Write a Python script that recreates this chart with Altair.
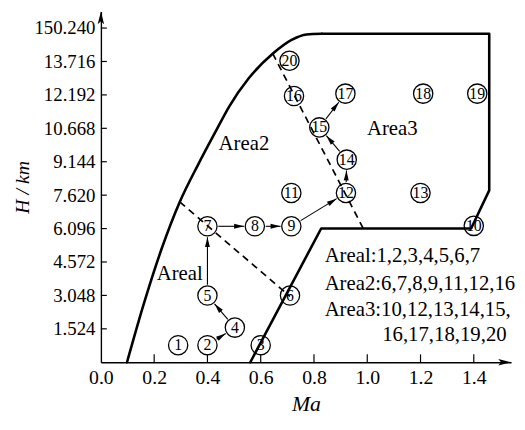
import math
import altair as alt
import pandas as pd

# ---------------- data ----------------
# flight envelope boundary (Ma, H km): smooth left (lower-speed) curve
curve_ma = [0.098, 0.161, 0.227, 0.296, 0.367, 0.432, 0.481, 0.555, 0.648, 0.716, 0.772, 0.83]
curve_h = [0.0, 2.66, 5.14, 7.31, 9.06, 10.55, 11.65, 12.95, 14.10, 14.70, 14.95, 14.98]
# straight part of the envelope (top, right side, lower right)
edge_ma = [0.83, 1.458, 1.458, 1.39, 0.827, 0.561]
edge_h = [14.98, 14.98, 7.84, 6.10, 6.10, 0.0]

# dashed area dividers
div1_ma = [0.296, 0.71]
div1_h = [7.31, 3.0]
div2_ma = [0.645, 0.985]
div2_h = [14.08, 6.10]

# numbered test points
pt_id = list(range(1, 21))
pt_ma = [0.29, 0.40, 0.60, 0.503, 0.40, 0.71, 0.40, 0.578, 0.715, 1.40,
         0.715, 0.92, 1.20, 0.923, 0.82, 0.725, 0.918, 1.21, 1.413, 0.708]
pt_h = [0.78, 0.78, 0.78, 1.58, 3.04, 3.04, 6.2, 6.2, 6.2, 6.22,
        7.72, 7.72, 7.72, 9.24, 10.71, 12.14, 12.25, 12.25, 12.25, 13.75]

# transition arrows (from point -> to point)
arrow_from = [2, 4, 5, 7, 8, 9, 12, 14, 15]
arrow_to = [4, 5, 7, 8, 9, 12, 14, 15, 17]

# in-plot texts
area_text = ["Area2", "Area3", "Areal"]
area_ma = [0.537, 1.094, 0.296]
area_h = [9.95, 10.62, 4.01]

legend_text = ["Areal:1,2,3,4,5,6,7", "Area2:6,7,8,9,11,12,16",
               "Area3:10,12,13,14,15,", "16,17,18,19,20"]
legend_ma = [0.84, 0.84, 0.84, 1.056]
legend_h = [4.84, 3.56, 2.36, 1.23]

# axes
x_ticks = [0.2, 0.4, 0.6, 0.8, 1.0, 1.2, 1.4]
x_labels = [0.0, 0.2, 0.4, 0.6, 0.8, 1.0, 1.2, 1.4]
y_ticks = [1.524, 3.048, 4.572, 6.096, 7.620, 9.144, 10.668, 12.192, 13.716, 15.240]
y_tick_text = ["1.524", "3.048", "4.572", "6.096", "7.620", "9.144", "10.668",
               "12.192", "13.716", "150.240"]

X_MAX = 1.54
Y_MAX = 16.0
W = 415
H = 355
PX = W / X_MAX
PY = H / Y_MAX
FONT = "Liberation Serif"
R = 11.0  # circle radius in px

# ---------------- build tables ----------------
curve_df = pd.DataFrame({"Ma": curve_ma, "H": curve_h, "o": range(len(curve_ma))})
edge_df = pd.DataFrame({"Ma": edge_ma, "H": edge_h, "o": range(len(edge_ma))})
div_df = pd.DataFrame({
    "Ma": div1_ma + div2_ma,
    "H": div1_h + div2_h,
    "seg": [1, 1, 2, 2],
    "o": [0, 1, 0, 1],
})
pts_df = pd.DataFrame({"Ma": pt_ma, "H": pt_h, "label": [str(i) for i in pt_id]})

seg_rows = []
head_rows = []
for k, (a, b) in enumerate(zip(arrow_from, arrow_to)):
    xa, ya = pt_ma[a - 1], pt_h[a - 1]
    xb, yb = pt_ma[b - 1], pt_h[b - 1]
    dxp, dyp = (xb - xa) * PX, (yb - ya) * PY
    d = math.hypot(dxp, dyp)
    ux, uy = dxp / d, dyp / d
    sx, sy = xa + R * ux / PX, ya + R * uy / PY
    ex, ey = xb - R * ux / PX, yb - R * uy / PY
    seg_rows.append({"Ma": sx, "H": sy, "seg": k, "o": 0})
    seg_rows.append({"Ma": ex, "H": ey, "seg": k, "o": 1})
    ang = math.degrees(math.atan2(ux, uy)) % 360
    head_rows.append({"Ma": ex - 5 * ux / PX, "H": ey - 5 * uy / PY, "ang": ang})
seg_df = pd.DataFrame(seg_rows)
head_df = pd.DataFrame(head_rows)

area_df = pd.DataFrame({"Ma": area_ma, "H": area_h, "label": area_text})
leg_df = pd.DataFrame({"Ma": legend_ma, "H": legend_h, "label": legend_text})

xt_df = pd.DataFrame({"Ma": x_ticks})
yt_df = pd.DataFrame({"H": y_ticks})
axis_arrow_df = pd.DataFrame({
    "Ma": [X_MAX - 6.5 / PX, 0.0],
    "H": [0.0, Y_MAX - 6.5 / PY],
    "ang": [90, 0],
})

# ---------------- scales / axes ----------------
label_expr = " : ".join(
    f"abs(datum.value - {v}) < 0.01 ? '{t}'" for v, t in zip(y_ticks, y_tick_text)
) + " : ''"

xs = alt.Scale(domain=[0, X_MAX], nice=False, zero=False)
ys = alt.Scale(domain=[0, Y_MAX], nice=False, zero=False)
xaxis = alt.Axis(values=x_labels, format=".1f", ticks=False, labelPadding=5,
                 labelFlush=False, labelOverlap=False, grid=False,
                 domainColor="black", domainWidth=1.4,
                 title="Ma", titleFontStyle="italic", titleFontSize=22,
                 titlePadding=7, labelFontSize=20)
yaxis = alt.Axis(values=y_ticks, labelExpr=label_expr, ticks=False, labelPadding=6,
                 labelFlush=False, labelOverlap=False, grid=False,
                 domainColor="black", domainWidth=1.4,
                 title="H / km", titleFontStyle="italic", titleFontSize=20,
                 titlePadding=1, labelFontSize=19)

X = alt.X("Ma:Q", scale=xs, axis=xaxis)
Y = alt.Y("H:Q", scale=ys, axis=yaxis)

curve = alt.Chart(curve_df).mark_line(
    color="black", strokeWidth=2.6, interpolate="monotone", strokeCap="round"
).encode(x=X, y=Y, order="o:Q")
edge = alt.Chart(edge_df).mark_line(
    color="black", strokeWidth=2.6, strokeJoin="round", strokeCap="round"
).encode(x=X, y=Y, order="o:Q")
dividers = alt.Chart(div_df).mark_line(color="black", strokeWidth=1.7, strokeDash=[7, 5]).encode(
    x=X, y=Y, detail="seg:N", order="o:Q")
arrows = alt.Chart(seg_df).mark_line(color="black", strokeWidth=1.1).encode(
    x=X, y=Y, detail="seg:N", order="o:Q")
heads = alt.Chart(head_df).mark_point(
    shape="M0,-1L0.5,1L-0.5,1Z", filled=True, color="black", size=100, opacity=1
).encode(x=X, y=Y, angle=alt.Angle("ang:Q", scale=None))
circles = alt.Chart(pts_df).mark_point(
    shape="circle", filled=False, color="black", size=380, strokeWidth=1.3, opacity=1
).encode(x=X, y=Y)
numbers = alt.Chart(pts_df).mark_text(font=FONT, fontSize=16, color="black").encode(
    x=X, y=Y, text="label:N")
areas = alt.Chart(area_df).mark_text(font=FONT, fontSize=21, color="black").encode(
    x=X, y=Y, text="label:N")
legend = alt.Chart(leg_df).mark_text(font=FONT, fontSize=21, color="black", align="left").encode(
    x=X, y=Y, text="label:N")
xticks = alt.Chart(xt_df).mark_rule(color="black", strokeWidth=1.2).encode(
    x=X, y=alt.value(H), y2=alt.value(H - 8))
yticks = alt.Chart(yt_df).mark_rule(color="black", strokeWidth=1.2).encode(
    y=Y, x=alt.value(0), x2=alt.value(6))
axis_arrows = alt.Chart(axis_arrow_df).mark_point(
    shape="M0,-1L0.5,1L0,0.55L-0.5,1Z", filled=True, color="black", size=169, opacity=1
).encode(x=X, y=Y, angle=alt.Angle("ang:Q", scale=None))

chart = alt.layer(
    curve, edge, dividers, arrows, heads, circles, numbers, areas, legend,
    xticks, yticks, axis_arrows
).properties(
    width=W, height=H,
    autosize=alt.AutoSizeParams(type="none"),
    padding={"left": 94, "top": 1, "right": 6, "bottom": 57},
    background="white",
).configure_axis(
    labelFont=FONT, titleFont=FONT, labelColor="black",
    titleColor="black", titleFontWeight="normal",
).configure_view(strokeWidth=0)

chart.save("out.html", embed_options={"renderer": "svg", "actions": False})
